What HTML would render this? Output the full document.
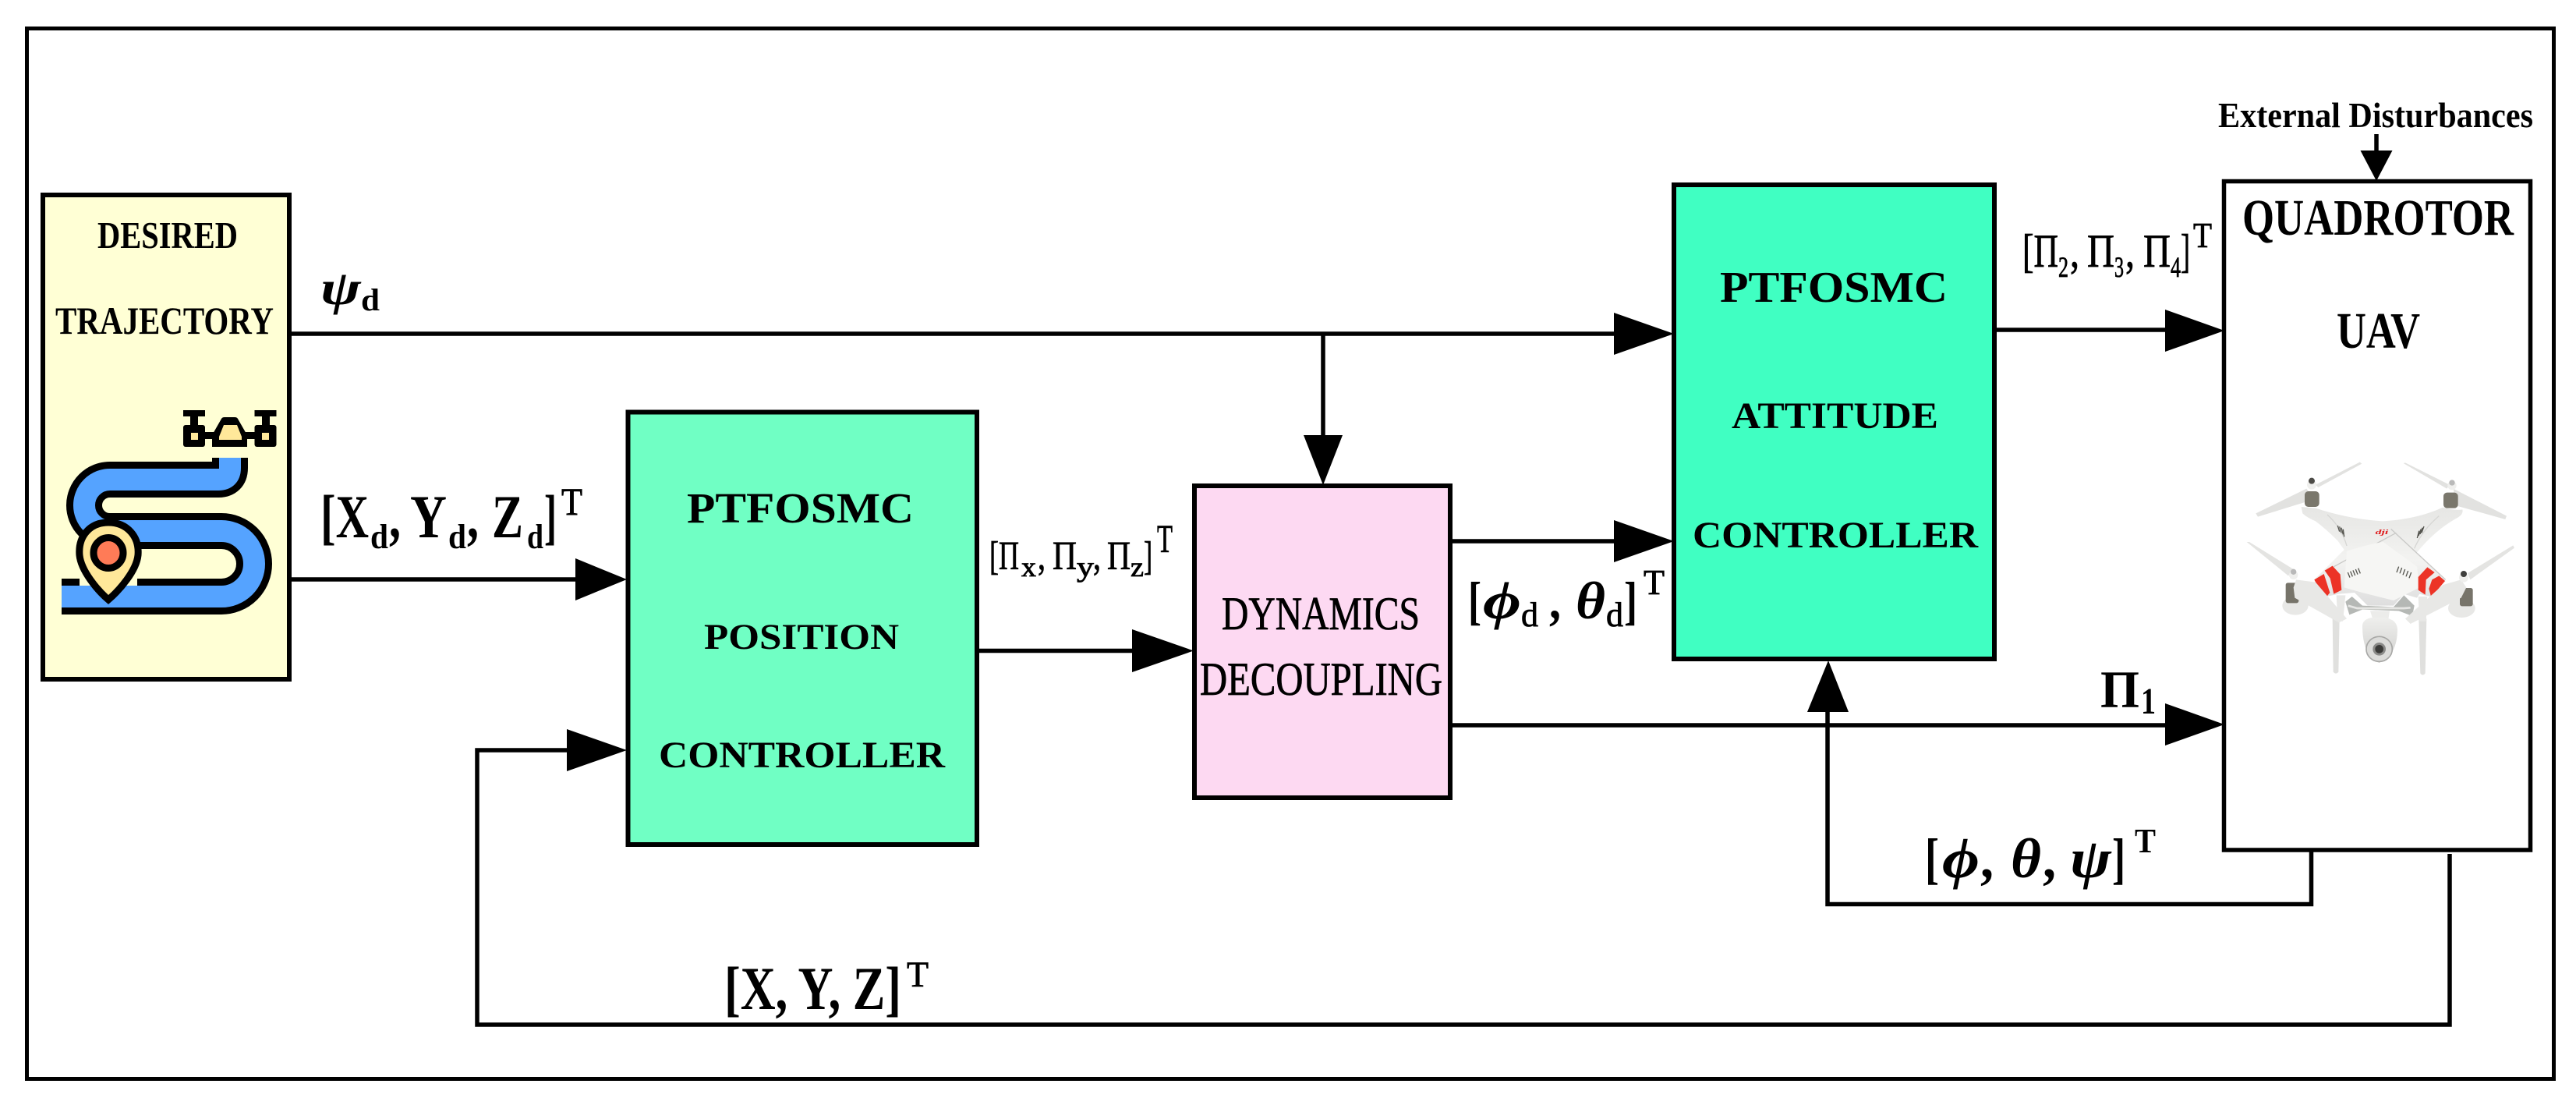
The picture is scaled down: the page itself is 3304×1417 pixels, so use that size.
<!DOCTYPE html>
<html><head><meta charset="utf-8"><title>PTFOSMC control diagram</title>
<style>
html,body{margin:0;padding:0;background:#fff}
svg{display:block}
text{font-family:"Liberation Serif","DejaVu Serif",serif;fill:#000}
.b{font-weight:bold}
.i{font-style:italic}
.r{stroke:#000;stroke-width:.8px}
</style></head><body>
<svg xmlns="http://www.w3.org/2000/svg" width="3304" height="1417" viewBox="0 0 3304 1417">
<defs>
<linearGradient id="body" x1="0" y1="0" x2="0" y2="1"><stop offset="0" stop-color="#e6e6e4"/><stop offset=".55" stop-color="#f3f3f1"/><stop offset="1" stop-color="#dedede"/></linearGradient>
<linearGradient id="cam" x1="0" y1="0" x2="0" y2="1"><stop offset="0" stop-color="#efefed"/><stop offset="1" stop-color="#cfcfcd"/></linearGradient>
</defs>
<rect width="3304" height="1417" fill="#fff"/>
<rect x="34.5" y="36.5" width="3241" height="1347" fill="none" stroke="#000" stroke-width="5"/>

<!-- boxes -->
<rect x="55" y="250" width="316" height="621" fill="#FFFFD5" stroke="#000" stroke-width="6"/>
<rect x="805.5" y="528.5" width="447.5" height="554.5" fill="#70FFC4" stroke="#000" stroke-width="6"/>
<rect x="1532" y="623" width="328" height="400" fill="#FDD9F2" stroke="#000" stroke-width="6"/>
<rect x="2147" y="237" width="411" height="608" fill="#40FFC2" stroke="#000" stroke-width="6"/>
<rect x="2852.5" y="232.5" width="393" height="857.5" fill="#fff" stroke="#000" stroke-width="5.5"/>

<!-- connectors -->
<g fill="none" stroke="#000" stroke-width="5.5">
<path d="M374,428H2072"/>
<path d="M1697,428V560"/>
<path d="M374,743H740"/>
<path d="M1256,834.5H1454"/>
<path d="M1860,694H2072"/>
<path d="M1860,930H2779"/>
<path d="M2561,423H2779"/>
<path d="M3048,172V195"/>
<path d="M2964.5,1092V1159.5H2344V911"/>
<path d="M3142,1095V1314H612V962H729"/>
</g>
<g fill="#000">
<polygon points="2070,401 2147,428 2070,455"/>
<polygon points="1672,558 1722,558 1697,622"/>
<polygon points="738,716 804,743 738,770"/>
<polygon points="727,935 804,962 727,989"/>
<polygon points="1452,807 1531,834.5 1452,862"/>
<polygon points="2070,667 2147,694 2070,721"/>
<polygon points="2777,397 2853,424 2777,451"/>
<polygon points="2777,902 2853,929 2777,956"/>
<polygon points="2318,913 2371,913 2345,847"/>
<polygon points="3027.5,193 3068.5,193 3048,232"/>
</g>

<!-- trajectory icon -->
<path d="M295,587V600Q295,615 280,615H141A33,33 0 0 0 141,681H284A42,42 0 0 1 284,765H79" fill="none" stroke="#000" stroke-width="46"/>
<path d="M295,587V600Q295,615 280,615H141A33,33 0 0 0 141,681H284A42,42 0 0 1 284,765H79" fill="none" stroke="#55A3FF" stroke-width="28"/>
<rect x="102" y="740" width="74" height="11" fill="#FFFFD5"/>
<path d="M139,670C115,670 100,688 102,712C104,732 125,757 139,769C153,757 175,732 177,712C179,688 163,670 139,670Z" fill="#FFE89A" stroke="#000" stroke-width="9"/>
<ellipse cx="139" cy="709" rx="19" ry="19.5" fill="#FF7B57" stroke="#000" stroke-width="9"/>
<g fill="#000">
<rect x="235" y="526" width="28" height="8"/><rect x="244" y="534" width="10" height="12"/>
<rect x="235" y="545" width="28" height="28" rx="3"/>
<rect x="326.5" y="526" width="28" height="8"/><rect x="336" y="534" width="10" height="12"/>
<rect x="326.5" y="545" width="28" height="28" rx="3"/>
<rect x="262" y="554" width="66" height="9"/>
<path d="M272,573V558L284,537Q285,535 288,535H301Q304,535 305,537L317,558V573Z"/>
</g>
<rect x="245" y="555" width="9" height="9" fill="#FFE89A"/>
<rect x="336" y="555" width="9" height="9" fill="#FFE89A"/>
<path d="M281,564V560L287,545H304L310,560V564Z" fill="#FFE89A"/>

<!-- drone -->
<g transform="translate(2870,580) scale(.33333)">
<g fill="#e2e2e0">
<polygon points="300,125 470,38 478,44 310,135"/>
<polygon points="265,140 70,235 78,248 265,190 280,160"/>
<polygon points="638,42 645,40 815,125 805,140"/>
<polygon points="830,140 1035,245 1030,258 840,205"/>
</g>
<rect x="258" y="150" width="56" height="60" rx="14" fill="#7a776c"/>
<rect x="792" y="155" width="56" height="60" rx="14" fill="#7a776c"/>
<circle cx="285" cy="125" r="18" fill="#efefed"/><circle cx="285" cy="110" r="12" fill="#4d4b47"/>
<circle cx="825" cy="128" r="17" fill="#efefed"/><circle cx="825" cy="117" r="11" fill="#b9b9b9"/>
<ellipse cx="222" cy="590" rx="50" ry="36" fill="#e8e8e6"/>
<ellipse cx="862" cy="600" rx="52" ry="36" fill="#e8e8e6"/>
<rect x="185" y="502" width="50" height="78" rx="8" fill="#77746a"/>
<rect x="855" y="522" width="50" height="70" rx="8" fill="#77746a"/>
<path d="M365,640L392,640L388,845Q378,857 368,845Z" fill="#e0e0de"/>
<path d="M697,640L727,640L722,850Q712,863 703,850Z" fill="#e0e0de"/>
<path d="M380,550L415,550L405,650L385,650Z" fill="#e8e8e6"/>
<path d="M695,555L730,555L725,650L700,650Z" fill="#e8e8e6"/>
<path d="M245,210L300,215Q430,258 560,265Q690,258 790,212Q830,225 865,220Q870,240 840,255Q760,300 690,385L800,495L740,555L700,545L690,560L640,545L600,590H500L450,540L390,545L340,555L295,490L410,375L385,340Q340,295 300,265Q265,250 250,235Z" fill="url(#body)"/>
<path d="M345,240Q400,290 420,360M775,245Q710,300 680,370" fill="none" stroke="#d6d6d4" stroke-width="4"/>
<path d="M610,310L370,440M590,295L800,490" fill="none" stroke="#c9c9c7" stroke-width="4"/>
<path d="M420,380Q520,350 560,345L690,440 700,520 600,570 480,540 410,520Z" fill="#f6f6f4"/>
<path d="M295,490L332,468L355,540L342,556L312,522Z" fill="#ec3326"/>
<path d="M335,455L365,437L395,470L400,530L370,545L356,485Z" fill="#ec3326"/>
<path d="M730,442L695,480L695,530L722,548L725,490L758,462Z" fill="#ec3326"/>
<path d="M748,490L775,475L798,495L745,558L736,525Z" fill="#ec3326"/>
<g stroke="#55554f" stroke-width="4" fill="none">
<path d="M424,462L432,482M434,458L442,478M444,454L452,474M454,450L462,470M464,446L472,466"/>
<path d="M620,440L612,462M632,444L624,466M644,450L636,472M656,456L648,478M668,462L660,484"/>
<path d="M385,282L392,305M392,286L399,310M399,290L406,316M406,296L410,325"/>
<path d="M717,285L708,310M711,290L702,315M705,296L696,322M698,302L691,330"/>
</g>
<path d="M415,575L440,555L480,590L600,595L640,550L680,590L672,630L620,610L480,605L430,625Z" fill="#b5b8b5"/>
<path d="M425,590L460,600H640L665,598" fill="none" stroke="#e6e6e4" stroke-width="8"/>
<path d="M510,610H585L580,642H520Z" fill="#ececea"/>
<path d="M480,665Q485,632 545,635Q612,635 615,680Q615,780 545,810Q480,785 480,665Z" fill="url(#cam)"/>
<ellipse cx="545" cy="757" rx="50" ry="48" fill="#dcdcda" stroke="#a8a8a6" stroke-width="5"/>
<circle cx="545" cy="757" r="25" fill="#8a8a88"/><circle cx="545" cy="757" r="16" fill="#3a3a38"/>
<path d="M35,345L45,345L215,450L195,475Z" fill="#e4e4e2"/>
<path d="M225,490L300,500L420,640L390,655L220,560L215,520Z" fill="#e8e8e6"/>
<path d="M885,465L1060,358L1065,368L895,490Z" fill="#e4e4e2"/>
<path d="M860,490L880,520L860,560L665,660L645,640L790,510Z" fill="#e8e8e6"/>
<circle cx="215" cy="472" r="17" fill="#efefed"/><circle cx="215" cy="460" r="11" fill="#b9b9b9"/>
<circle cx="870" cy="482" r="18" fill="#efefed"/><circle cx="870" cy="468" r="12" fill="#3f3f3d"/>
<text x="530" y="315" font-size="26" textLength="50" lengthAdjust="spacingAndGlyphs" class="b i" style="fill:#df1c1c">dji</text>
</g>

<!-- labels -->
<text x="125" y="318" font-size="49" class="b" textLength="180" lengthAdjust="spacingAndGlyphs">DESIRED</text>
<text x="71" y="428" font-size="50" class="b" textLength="280" lengthAdjust="spacingAndGlyphs">TRAJECTORY</text>

<text x="411" y="390" font-size="62" class="b i" textLength="52" lengthAdjust="spacingAndGlyphs">ψ</text>
<text x="463" y="398" font-size="40" class="b" textLength="24" lengthAdjust="spacingAndGlyphs">d</text>

<text x="411" y="689" font-size="78" class="b" textLength="62" lengthAdjust="spacingAndGlyphs">[X</text>
<text x="475" y="703" font-size="44" class="b" textLength="23" lengthAdjust="spacingAndGlyphs">d</text>
<text x="499" y="689" font-size="78" class="b" textLength="15" lengthAdjust="spacingAndGlyphs">,</text>
<text x="526" y="689" font-size="78" class="b" textLength="47" lengthAdjust="spacingAndGlyphs">Y</text>
<text x="575" y="703" font-size="44" class="b" textLength="23" lengthAdjust="spacingAndGlyphs">d</text>
<text x="599" y="689" font-size="78" class="b" textLength="15" lengthAdjust="spacingAndGlyphs">,</text>
<text x="631" y="689" font-size="78" class="b" textLength="40" lengthAdjust="spacingAndGlyphs">Z</text>
<text x="676" y="703" font-size="44" class="b" textLength="21" lengthAdjust="spacingAndGlyphs">d</text>
<text x="698" y="689" font-size="78" class="b" textLength="16" lengthAdjust="spacingAndGlyphs">]</text>
<text x="720" y="660" font-size="50" class="r" textLength="27" lengthAdjust="spacingAndGlyphs">T</text>

<text x="881" y="670" font-size="55" class="b" textLength="291" lengthAdjust="spacingAndGlyphs">PTFOSMC</text>
<text x="903" y="832" font-size="47" class="b" textLength="250" lengthAdjust="spacingAndGlyphs">POSITION</text>
<text x="845" y="984" font-size="48" class="b" textLength="367" lengthAdjust="spacingAndGlyphs">CONTROLLER</text>

<text x="1269" y="730" font-size="52" class="r" textLength="38" lengthAdjust="spacingAndGlyphs">[Π</text>
<text x="1310" y="739" font-size="36" class="r" textLength="19" lengthAdjust="spacingAndGlyphs">x</text>
<text x="1331" y="730" font-size="52" class="r" textLength="10" lengthAdjust="spacingAndGlyphs">,</text>
<text x="1350" y="730" font-size="52" class="r" textLength="31" lengthAdjust="spacingAndGlyphs">Π</text>
<text x="1381" y="739" font-size="36" class="r" textLength="22" lengthAdjust="spacingAndGlyphs">y</text>
<text x="1402" y="730" font-size="52" class="r" textLength="10" lengthAdjust="spacingAndGlyphs">,</text>
<text x="1420" y="730" font-size="52" class="r" textLength="30" lengthAdjust="spacingAndGlyphs">Π</text>
<text x="1450" y="739" font-size="36" class="r" textLength="17" lengthAdjust="spacingAndGlyphs">z</text>
<text x="1467" y="730" font-size="52" class="r" textLength="11" lengthAdjust="spacingAndGlyphs">]</text>
<text x="1484" y="708" font-size="51" class="r" textLength="20" lengthAdjust="spacingAndGlyphs">T</text>

<text x="1567" y="807" font-size="60" class="r" textLength="254" lengthAdjust="spacingAndGlyphs">DYNAMICS</text>
<text x="1539" y="891" font-size="60" class="r" textLength="311" lengthAdjust="spacingAndGlyphs">DECOUPLING</text>

<text x="2206" y="387" font-size="56" class="b" textLength="292" lengthAdjust="spacingAndGlyphs">PTFOSMC</text>
<text x="2221" y="549" font-size="48" class="b" textLength="265" lengthAdjust="spacingAndGlyphs">ATTITUDE</text>
<text x="2171" y="702" font-size="48" class="b" textLength="366" lengthAdjust="spacingAndGlyphs">CONTROLLER</text>

<text x="1883" y="793" font-size="68" class="b" textLength="17" lengthAdjust="spacingAndGlyphs">[</text>
<text x="1902" y="793" font-size="68" class="b i" textLength="49" lengthAdjust="spacingAndGlyphs">ϕ</text>
<text x="1951" y="803" font-size="44" class="r" textLength="22" lengthAdjust="spacingAndGlyphs">d</text>
<text x="1987" y="793" font-size="68" class="b" textLength="15" lengthAdjust="spacingAndGlyphs">,</text>
<text x="2021" y="793" font-size="68" class="b i" textLength="38" lengthAdjust="spacingAndGlyphs">θ</text>
<text x="2060" y="803" font-size="44" class="r" textLength="22" lengthAdjust="spacingAndGlyphs">d</text>
<text x="2083" y="793" font-size="68" class="b" textLength="17" lengthAdjust="spacingAndGlyphs">]</text>
<text x="2108" y="762" font-size="46" class="r" textLength="27" lengthAdjust="spacingAndGlyphs">T</text>

<text x="2594" y="342" font-size="60" class="r" textLength="46" lengthAdjust="spacingAndGlyphs">[Π</text>
<text x="2640" y="355" font-size="37" class="r" textLength="13" lengthAdjust="spacingAndGlyphs">2</text>
<text x="2655" y="342" font-size="60" class="r" textLength="12" lengthAdjust="spacingAndGlyphs">,</text>
<text x="2677" y="342" font-size="60" class="r" textLength="35" lengthAdjust="spacingAndGlyphs">Π</text>
<text x="2712" y="355" font-size="37" class="r" textLength="12" lengthAdjust="spacingAndGlyphs">3</text>
<text x="2726" y="342" font-size="60" class="r" textLength="12" lengthAdjust="spacingAndGlyphs">,</text>
<text x="2749" y="342" font-size="60" class="r" textLength="35" lengthAdjust="spacingAndGlyphs">Π</text>
<text x="2784" y="355" font-size="37" class="r" textLength="13" lengthAdjust="spacingAndGlyphs">4</text>
<text x="2797" y="342" font-size="60" class="r" textLength="12" lengthAdjust="spacingAndGlyphs">]</text>
<text x="2813" y="317" font-size="46" class="r" textLength="24" lengthAdjust="spacingAndGlyphs">T</text>

<text x="2694" y="907" font-size="68" class="b" textLength="50" lengthAdjust="spacingAndGlyphs">Π</text>
<text x="2746" y="915" font-size="48" class="b" textLength="19" lengthAdjust="spacingAndGlyphs">1</text>

<text x="2845" y="163" font-size="46" class="b" textLength="404" lengthAdjust="spacingAndGlyphs">External Disturbances</text>
<text x="2876" y="301" font-size="66" class="b" textLength="348" lengthAdjust="spacingAndGlyphs">QUADROTOR</text>
<text x="2997" y="446" font-size="66" class="b" textLength="107" lengthAdjust="spacingAndGlyphs">UAV</text>

<text x="2469" y="1125" font-size="72" class="b" textLength="18" lengthAdjust="spacingAndGlyphs">[</text>
<text x="2491" y="1125" font-size="72" class="b i" textLength="48" lengthAdjust="spacingAndGlyphs">ϕ</text>
<text x="2540" y="1125" font-size="72" class="b" textLength="17" lengthAdjust="spacingAndGlyphs">,</text>
<text x="2579" y="1125" font-size="72" class="b i" textLength="39" lengthAdjust="spacingAndGlyphs">θ</text>
<text x="2620" y="1125" font-size="72" class="b" textLength="17" lengthAdjust="spacingAndGlyphs">,</text>
<text x="2655" y="1125" font-size="72" class="b i" textLength="53" lengthAdjust="spacingAndGlyphs">ψ</text>
<text x="2709" y="1125" font-size="72" class="b" textLength="17" lengthAdjust="spacingAndGlyphs">]</text>
<text x="2738" y="1093" font-size="44" class="b" textLength="27" lengthAdjust="spacingAndGlyphs">T</text>

<text x="929" y="1294" font-size="78" class="b" textLength="227" lengthAdjust="spacingAndGlyphs">[X, Y, Z]</text>
<text x="1163" y="1265" font-size="47" class="r" textLength="28" lengthAdjust="spacingAndGlyphs">T</text>
</svg>
</body></html>
